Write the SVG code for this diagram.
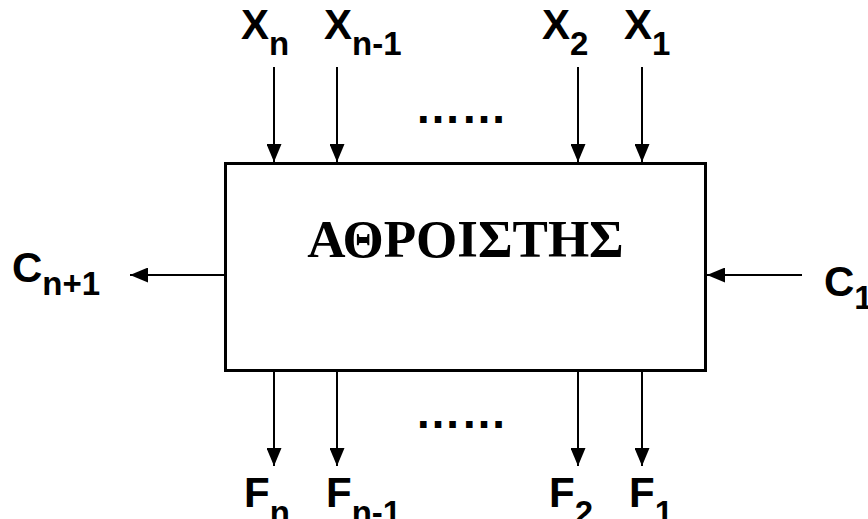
<svg xmlns="http://www.w3.org/2000/svg" width="868" height="519" viewBox="0 0 868 519">
<style>
.lbl{font-family:"Liberation Sans",Arial,sans-serif;font-weight:bold;font-size:42px;fill:#000}
.sub{font-size:33px}
.title{font-family:"Liberation Serif","Times New Roman",serif;font-weight:bold;font-size:53px;fill:#000}
.dots{font-family:"Liberation Sans",Arial,sans-serif;font-weight:bold;font-size:46px;fill:#000}
.wire{stroke:#000;stroke-width:2;fill:none;marker-end:url(#ah)}
</style>
<defs>
<marker id="ah" markerUnits="userSpaceOnUse" markerWidth="18" markerHeight="15" refX="18" refY="7.5" orient="auto">
<path d="M0,0 L18,7.5 L0,15 z" fill="#000"/>
</marker>
</defs>
<rect width="868" height="519" fill="#fff"/>
<g id="adder">
<rect x="225.5" y="163.5" width="480" height="207" fill="#fff" stroke="#000" stroke-width="3"/>
<text class="title" x="465.5" y="257" text-anchor="middle">ΑΘΡΟΙΣΤΗΣ</text>
</g>
<g id="connectors">
<line class="wire" x1="274" y1="67" x2="274" y2="162"/>
<line class="wire" x1="337" y1="67" x2="337" y2="162"/>
<line class="wire" x1="578" y1="67" x2="578" y2="162"/>
<line class="wire" x1="642" y1="67" x2="642" y2="162"/>
<line class="wire" x1="274" y1="372" x2="274" y2="466"/>
<line class="wire" x1="337" y1="372" x2="337" y2="466"/>
<line class="wire" x1="578" y1="372" x2="578" y2="466"/>
<line class="wire" x1="642" y1="372" x2="642" y2="466"/>
<line class="wire" x1="224" y1="275" x2="130" y2="275"/>
<line class="wire" x1="802" y1="275" x2="707" y2="275"/>
</g>
<g id="inputs">
<text class="lbl" x="241" y="39">X<tspan class="sub" dy="16">n</tspan></text>
<text class="lbl" x="324" y="39">X<tspan class="sub" dy="16">n-1</tspan></text>
<text class="lbl" x="542" y="39">X<tspan class="sub" dy="16">2</tspan></text>
<text class="lbl" x="624" y="39">X<tspan class="sub" dy="16">1</tspan></text>
<text class="dots" x="415" y="123">……</text>
</g>
<g id="carries">
<text class="lbl" x="12" y="282">C<tspan class="sub" dy="13">n+1</tspan></text>
<text class="lbl" x="824" y="296">C<tspan class="sub" dy="13">1</tspan></text>
</g>
<g id="outputs">
<text class="lbl" x="244" y="507">F<tspan class="sub" dy="17">n</tspan></text>
<text class="lbl" x="326" y="507">F<tspan class="sub" dy="17">n-1</tspan></text>
<text class="lbl" x="549" y="507">F<tspan class="sub" dy="17">2</tspan></text>
<text class="lbl" x="629" y="507">F<tspan class="sub" dy="17">1</tspan></text>
<text class="dots" x="415" y="428">……</text>
</g>
</svg>
